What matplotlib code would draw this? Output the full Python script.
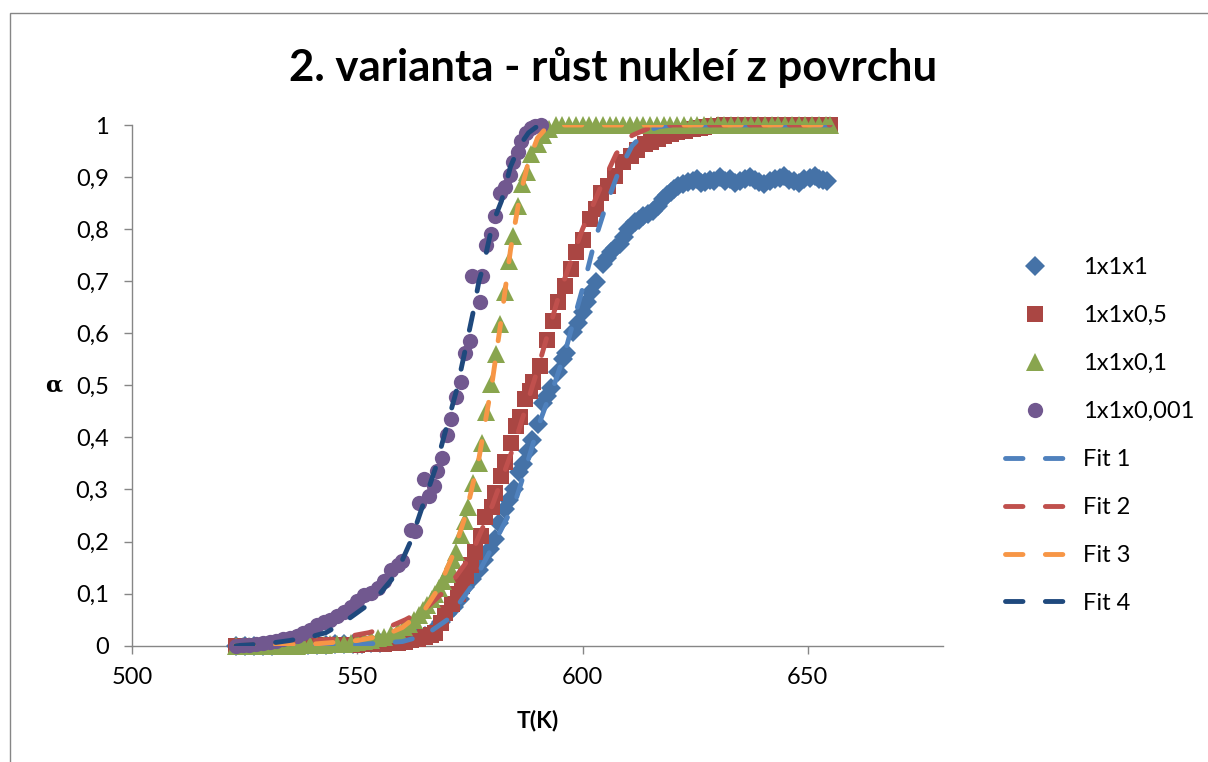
import matplotlib
matplotlib.use("Agg")
import matplotlib.pyplot as plt
from matplotlib.patches import Rectangle

plt.rcParams['font.family'] = ['Lato', 'DejaVu Sans']

# --- data: temperature T (K) and conversion alpha ---
t_1x1x1 = [523, 525, 527, 529, 531, 533, 535, 537, 539, 541,
           543, 545, 547, 549, 551, 553, 555, 557, 559, 561,
           563, 565, 567, 568.5, 570, 571.5, 572.8, 574, 575.5, 576.9,
           578.2, 579.5, 580.6, 581.5, 582.8, 583.7, 584.8, 586, 586.8, 588,
           588.8, 590.1, 591.3, 592.2, 593, 594.6, 595.7, 596.3, 597.9, 599,
           600.1, 601, 601.9, 603, 604.5, 605.4, 606.3, 607.3, 608.3, 609.2,
           610, 611.6, 612.5, 613.4, 614.5, 615.6, 616.7, 617.8, 618.7, 619.6,
           620.4, 621.2, 622.3, 623.4, 624.5, 625.5, 626.4, 627.3, 628.3, 629.3,
           630.5, 631.6, 632.8, 633.9, 635, 636.1, 637.2, 638.2, 639.2, 640.4,
           641.6, 642.7, 643.8, 644.8, 645.9, 647, 648.1, 649.3, 650.5, 651.7,
           652.6, 653.5, 654.4]
a_1x1x1 = [0, 0, 0, 0, 0, 0.001, 0.001, 0.001, 0.002, 0.002,
           0.002, 0.003, 0.003, 0.004, 0.004, 0.005, 0.006, 0.007, 0.009, 0.011,
           0.014, 0.018, 0.03, 0.045, 0.06, 0.075, 0.09, 0.113, 0.128, 0.145,
           0.165, 0.185, 0.205, 0.235, 0.262, 0.28, 0.30, 0.333, 0.348, 0.373,
           0.396, 0.425, 0.467, 0.48, 0.495, 0.525, 0.55, 0.563, 0.602, 0.62,
           0.64, 0.66, 0.679, 0.698, 0.733, 0.745, 0.756, 0.764, 0.771, 0.785,
           0.80, 0.813, 0.818, 0.825, 0.83, 0.835, 0.845, 0.858, 0.865, 0.871,
           0.878, 0.883, 0.887, 0.89, 0.893, 0.896, 0.888, 0.89, 0.895, 0.892,
           0.90, 0.893, 0.896, 0.889, 0.892, 0.897, 0.90, 0.894, 0.89, 0.887,
           0.892, 0.896, 0.898, 0.902, 0.895, 0.892, 0.888, 0.896, 0.899, 0.902,
           0.896, 0.894, 0.892]

t_1x1x05 = [523, 524.5, 526, 527.5, 529, 530.5, 532, 533.5, 535, 536.5,
            538, 539.5, 541, 542.5, 544, 545.5, 547, 548.5, 550, 551.5,
            553, 554.5, 556, 557.5, 559, 560.5, 562, 563.5, 565, 566.3,
            567.3, 568.5, 569.5, 571, 572.4, 573.3, 574.2, 575.2, 576.2, 577.5,
            578.4, 579.8, 580.6, 582, 582.8, 584.2, 585.3, 586.2, 587.3, 588.4,
            589, 590.6, 592, 593.5, 594.6, 596.1, 597.5, 598.6, 600.1, 601.7,
            603, 604.1, 605.6, 607.2, 609, 610.7, 612.2, 613.8, 615.2, 616.7,
            618.2, 619.6, 621, 622.7, 624.5, 626, 627, 628.5, 630, 631.5,
            633, 634.5, 636, 637.5, 639, 640.5, 642, 643.5, 645, 646.5,
            648, 649.5, 651, 652.5, 654, 655]
a_1x1x05 = [0, 0, 0, 0, 0, 0, 0, 0, 0.001, 0.001,
            0.001, 0.001, 0.001, 0.001, 0.002, 0.002, 0.002, 0.002, 0.002, 0.003,
            0.003, 0.004, 0.004, 0.005, 0.006, 0.008, 0.01, 0.012, 0.017, 0.02,
            0.025, 0.044, 0.063, 0.08, 0.10, 0.115, 0.133, 0.155, 0.18, 0.21,
            0.248, 0.267, 0.294, 0.325, 0.352, 0.39, 0.421, 0.44, 0.473, 0.49,
            0.506, 0.537, 0.588, 0.623, 0.66, 0.69, 0.723, 0.756, 0.78, 0.82,
            0.838, 0.87, 0.883, 0.902, 0.929, 0.94, 0.952, 0.963, 0.968, 0.973,
            0.978, 0.983, 0.986, 0.988, 0.992, 0.994, 0.996, 0.998, 0.999, 1,
            1, 1, 1, 1, 1, 1, 1, 1, 1, 1,
            1, 1, 1, 1, 1, 1]

t_1x1x01 = [523, 524.5, 526, 527.5, 529, 530.5, 532, 533.5, 535, 536.5,
            538, 539.5, 541, 542.5, 544, 545.5, 547, 548.5, 550, 551.5,
            553, 554.5, 556, 557.5, 559, 560.3, 561.5, 562.5, 563.6, 564.5,
            565.5, 566.5, 567.3, 568.2, 569, 569.8, 570.6, 571.3, 572, 572.9,
            573.8, 574.6, 575.7, 576.9, 577.7, 578.6, 579.7, 580.7, 581.7, 582.8,
            583.7, 584.6, 585.7, 586.6, 587.7, 588.6, 590, 591.3, 592.5, 594,
            595.5, 597, 598.5, 600, 601.5, 603, 604.5, 606, 607.5, 609,
            610.5, 612, 613.5, 615, 616.5, 618, 619.5, 621, 622.5, 624,
            625.5, 627, 628.5, 630, 631.5, 633, 634.5, 636, 637.5, 639,
            640.5, 642, 643.5, 645, 646.5, 648, 649.5, 651, 652.5, 654, 655]
a_1x1x01 = [0, 0, 0, 0, 0, 0, 0, 0, 0, 0,
            0.001, 0.001, 0.002, 0.002, 0.003, 0.003, 0.004, 0.005, 0.007, 0.009,
            0.011, 0.014, 0.017, 0.022, 0.028, 0.035, 0.042, 0.05, 0.058, 0.068,
            0.078, 0.09, 0.10, 0.11, 0.125, 0.137, 0.15, 0.165, 0.18, 0.213,
            0.24, 0.267, 0.313, 0.35, 0.39, 0.448, 0.503, 0.56, 0.617, 0.679,
            0.738, 0.787, 0.844, 0.886, 0.91, 0.944, 0.963, 0.98, 0.993, 1,
            1, 1, 1, 1, 1, 1, 1, 1, 1, 1,
            1, 1, 1, 1, 1, 1, 1, 1, 1, 1,
            1, 1, 1, 1, 1, 1, 1, 1, 1, 1,
            1, 1, 1, 1, 1, 1, 1, 1, 1, 1, 1]

t_1x1x0001 = [523, 524.5, 526, 527.5, 529, 530.5, 532, 533.5, 535, 536.5,
              538, 539.5, 541, 542.5, 544, 545.5, 547, 548.5, 550, 551.5,
              553, 554.5, 556, 557.5, 559, 560, 561.8, 562.9, 563.6, 564.7,
              565.9, 567, 567.7, 568.8, 570, 570.8, 572, 573.1, 574, 575,
              577.2, 575.5, 577.7, 578.6, 579.7, 580.5, 581.6, 582.7, 583.8, 584.6,
              585.7, 586.4, 587.5, 588.5, 589.5, 590.8]
a_1x1x0001 = [0, 0.001, 0.002, 0.003, 0.005, 0.007, 0.009, 0.012, 0.015, 0.019,
              0.024, 0.03, 0.04, 0.046, 0.05, 0.057, 0.065, 0.075, 0.085, 0.098,
              0.102, 0.11, 0.125, 0.145, 0.155, 0.163, 0.223, 0.22, 0.275, 0.32,
              0.287, 0.306, 0.335, 0.36, 0.405, 0.435, 0.477, 0.506, 0.563, 0.585,
              0.66, 0.71, 0.71, 0.77, 0.79, 0.825, 0.87, 0.88, 0.904, 0.929,
              0.948, 0.97, 0.985, 0.995, 0.998, 1.0]

# fitted curves
t_fit1 = [523, 540, 550, 560, 565, 570, 575, 580, 585, 587.3, 590.1, 592, 593.9,
          596.1, 598.3, 600.6, 602.8, 605.2, 608, 611, 614, 617, 620, 655]
a_fit1 = [0, 0.001, 0.002, 0.008, 0.02, 0.05, 0.11, 0.19, 0.275, 0.338, 0.42, 0.465, 0.506,
          0.563, 0.633, 0.704, 0.78, 0.845, 0.91, 0.96, 0.987, 0.997, 1.0, 1.0]
t_fit2 = [523, 535, 545, 552.5, 557, 560.7, 565, 570, 575, 580, 585, 590, 595,
          600, 604, 607.5, 611, 615, 620, 655]
a_fit2 = [0, 0.005, 0.013, 0.025, 0.036, 0.05, 0.07, 0.11, 0.17, 0.27, 0.39, 0.53, 0.68,
          0.80, 0.88, 0.945, 0.98, 0.995, 1.0, 1.0]
t_fit3 = [523, 540, 550, 556, 560, 565, 568, 571, 574, 577, 580, 582, 584, 586,
          588, 590, 592, 594, 655]
a_fit3 = [0, 0.003, 0.01, 0.02, 0.035, 0.07, 0.11, 0.17, 0.25, 0.36, 0.51, 0.63, 0.76, 0.86,
          0.93, 0.975, 0.995, 1.0, 1.0]
t_fit4 = [523, 530, 535, 540, 543, 547, 551.8, 555, 557.6, 560, 561.8, 564, 567.3,
          569.8, 572, 573.5, 575.7, 577, 578, 580, 582, 584, 586, 588, 590, 592]
a_fit4 = [0, 0.004, 0.01, 0.018, 0.025, 0.045, 0.075, 0.10, 0.127, 0.165, 0.20, 0.256, 0.34,
          0.42, 0.49, 0.55, 0.64, 0.70, 0.73, 0.81, 0.854, 0.92, 0.96, 0.985, 0.998, 1.0]

x_ticks = [500, 550, 600, 650]
y_ticks = [0, 0.1, 0.2, 0.3, 0.4, 0.5, 0.6, 0.7, 0.8, 0.9, 1]
y_ticklabels = ['0', '0,1', '0,2', '0,3', '0,4', '0,5', '0,6', '0,7', '0,8', '0,9', '1']

W, H = 1208, 762
fig = plt.figure(figsize=(W / 100, H / 100), dpi=100)
fig.patches.append(Rectangle((10 / W, -0.2), 1.5, 1.2 - 13 / H,
                             transform=fig.transFigure, fill=False,
                             edgecolor='#868686', linewidth=1.0))

ax = fig.add_axes([132.3 / W, (H - 645.7) / H, (942.7 - 132.3) / W, (645.7 - 125) / H])

grey = '#868686'
ms_kw = dict(linestyle='none', markeredgewidth=0, clip_on=False)
ax.plot(t_1x1x1, a_1x1x1, marker='D', markersize=10.5, color='#4572A7', label='1x1x1', zorder=3, **ms_kw)
ax.plot(t_1x1x05, a_1x1x05, marker='s', markersize=11, color='#AA4643', label='1x1x0,5', zorder=4, **ms_kw)
ax.plot(t_1x1x01, a_1x1x01, marker='^', markersize=12.5, color='#89A54E', label='1x1x0,1', zorder=5, **ms_kw)
ax.plot(t_1x1x0001, a_1x1x0001, marker='o', markersize=11, color='#71588F', label='1x1x0,001', zorder=6, **ms_kw)

dash = (0, (3.6, 4.6))
ln_kw = dict(linewidth=3.5, linestyle=dash, dash_capstyle='round', zorder=7)
ax.plot(t_fit1, a_fit1, color='#4F81BD', label='Fit 1', **ln_kw)
ax.plot(t_fit2, a_fit2, color='#C0504D', label='Fit 2', **ln_kw)
ax.plot(t_fit3, a_fit3, color='#F79646', label='Fit 3', **ln_kw)
ax.plot(t_fit4, a_fit4, color='#1F497D', label='Fit 4', **ln_kw)

ax.set_xlim(500, 680)
ax.set_ylim(0, 1)
ax.set_xticks(x_ticks)
ax.set_yticks(y_ticks)
ax.set_yticklabels(y_ticklabels)
for s in ['top', 'right']:
    ax.spines[s].set_visible(False)
for s in ['left', 'bottom']:
    ax.spines[s].set_color(grey)
    ax.spines[s].set_linewidth(1.0)
ax.tick_params(axis='both', direction='out', length=6, width=1.0, color=grey,
               labelsize=17, labelcolor='black')
ax.tick_params(axis='y', pad=11)
ax.tick_params(axis='x', pad=9)

ax.set_xlabel('T(K)', fontsize=16.5, fontweight='bold', labelpad=16)
fig.text(54 / W, 1 - 386 / H, 'α', fontsize=16, fontweight='bold', ha='center', va='center',
         family=['DejaVu Serif'])

fig.text(613 / W, 1 - 68 / H, '2. varianta - růst nukleí z povrchu', fontsize=31.5,
         fontweight='bold', ha='center', va='center')

leg = ax.legend(loc='center left', bbox_to_anchor=(1005 / W, 1 - 435.5 / H),
                bbox_transform=fig.transFigure, frameon=False, fontsize=17,
                numpoints=1, handlelength=2.53, handletextpad=0.76, labelspacing=1.14,
                borderpad=0, borderaxespad=0)

fig.savefig('out.png', dpi=100)
